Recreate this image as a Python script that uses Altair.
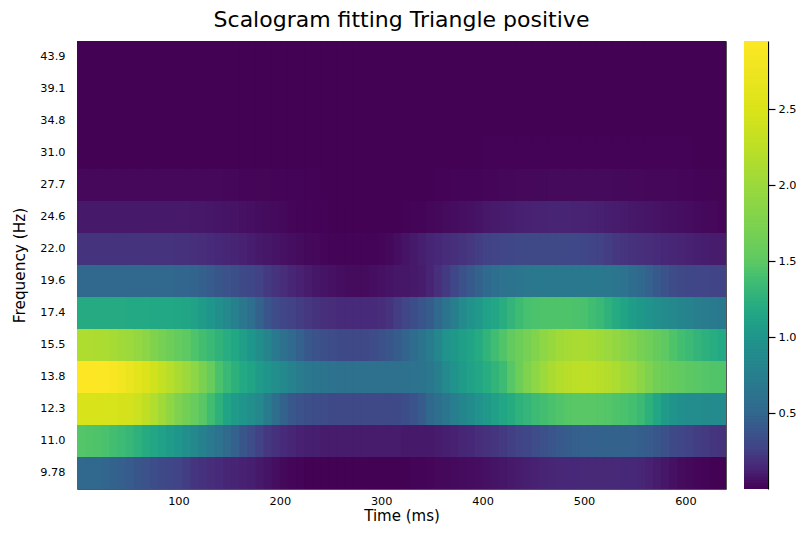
import altair as alt
import numpy as np
import pandas as pd

frequencies = ["43.9","39.1","34.8","31.0","27.7","24.6","22.0","19.6","17.4","15.5","13.8","12.3","11.0","9.78"]

r_439 = [.002]*40
r_391 = [.002]*40
r_348 = [.003]*16 + [.002]*6 + [.003]*18
r_310 = [.004,.004,.004,.004,.004,.004,.004,.004,.004,.003,.003,.003,.003,.002,.002,.002,.002,.002,.002,.002,.002,.002,.003,.004,.005,.006,.007,.008,.008,.008,.008,.008,.008,.008,.007,.007,.006,.006,.005,.005]
r_277 = [.025,.025,.026,.026,.026,.026,.026,.026,.025,.024,.02,.017,.014,.01,.007,.005,.003,.002,.002,.002,.003,.005,.008,.011,.015,.02,.024,.027,.03,.032,.033,.033,.032,.03,.027,.024,.021,.018,.015,.013]
r_246 = [.09,.09,.09,.09,.09,.09,.09,.09,.09,.09,.09,.09,.09,.09,.085,.083,.08,.075,.07,.065,.06,.052,.045,.04,.035,.028,.02,.016,.012,.009,.006,.004,.003,.002,.002,.002,.002,.002,.003,.005,.008,.011,.015,.022,.03,.037,.045,.052,.06,.072,.085,.092,.10,.108,.115,.12,.125,.128,.13,.13,.13,.128,.125,.12,.115,.108,.10,.092,.085,.08,.075,.068,.06,.055,.05,.042,.035,.03,.025,.02]
r_220 = [.20,.20,.20,.20,.20,.20,.20,.20,.20,.20,.20,.20,.19,.19,.18,.17,.16,.15,.14,.13,.12,.105,.09,.08,.07,.06,.05,.04,.03,.025,.02,.015,.01,.01,.01,.01,.012,.02,.03,.05,.07,.09,.11,.13,.15,.165,.18,.20,.22,.24,.26,.27,.28,.29,.30,.30,.30,.30,.30,.30,.30,.295,.29,.275,.26,.24,.22,.205,.19,.18,.17,.16,.15,.14,.13,.12,.11,.105,.10,.10]
r_196 = [.50,.50,.50,.50,.50,.50,.50,.50,.50,.50,.50,.50,.49,.49,.48,.45,.42,.39,.36,.34,.31,.29,.26,.23,.20,.17,.14,.12,.10,.08,.07,.06,.05,.04,.04,.04,.05,.06,.07,.08,.08,.09,.10,.13,.18,.23,.29,.35,.41,.47,.52,.57,.61,.64,.66,.67,.68,.68,.68,.68,.68,.68,.68,.68,.68,.67,.65,.61,.56,.51,.46,.41,.36,.32,.30,.29,.28,.28,.27,.27]
r_174 = [1.19,1.19,1.19,1.19,1.19,1.19,1.18,1.18,1.18,1.17,1.17,1.17,1.16,1.14,1.10,1.05,1.00,.93,.85,.77,.67,.57,.47,.38,.32,.28,.26,.24,.22,.20,.18,.17,.16,.16,.16,.16,.16,.17,.20,.24,.28,.33,.38,.43,.50,.62,.75,.87,.96,1.03,1.10,1.15,1.22,1.29,1.36,1.41,1.43,1.44,1.44,1.44,1.44,1.43,1.42,1.38,1.33,1.26,1.19,1.12,1.07,1.02,.97,.93,.89,.85,.82,.79,.75,.72,.70,.68]
r_155 = [2.15,2.14,2.13,2.11,2.08,2.04,2.00,1.94,1.86,1.77,1.69,1.61,1.55,1.50,1.44,1.39,1.33,1.27,1.21,1.16,1.08,1.00,.92,.81,.70,.60,.52,.46,.40,.36,.34,.32,.31,.30,.30,.30,.32,.35,.39,.43,.48,.55,.62,.71,.83,.96,1.02,1.08,1.13,1.19,1.28,1.37,1.45,1.54,1.61,1.68,1.78,1.88,1.97,2.03,2.08,2.10,2.10,2.08,2.04,1.98,1.92,1.85,1.78,1.70,1.63,1.56,1.50,1.44,1.39,1.34,1.29,1.25,1.21,1.18]
r_138 = [2.95,2.95,2.94,2.93,2.88,2.81,2.72,2.62,2.52,2.42,2.30,2.20,2.10,2.00,1.88,1.72,1.58,1.42,1.33,1.25,1.18,1.12,1.05,.99,.93,.86,.79,.72,.68,.65,.62,.61,.60,.60,.60,.60,.60,.60,.60,.60,.60,.61,.62,.67,.76,.87,.97,1.04,1.10,1.15,1.21,1.28,1.35,1.47,1.61,1.76,1.88,2.00,2.10,2.17,2.21,2.24,2.26,2.24,2.21,2.17,2.11,2.04,1.98,1.87,1.75,1.65,1.60,1.56,1.52,1.49,1.48,1.46,1.45,1.45]
r_123 = [2.48,2.48,2.48,2.47,2.47,2.46,2.44,2.38,2.28,2.16,2.03,1.89,1.75,1.66,1.57,1.48,1.38,1.25,1.12,1.05,.99,.93,.85,.72,.58,.47,.40,.36,.34,.33,.32,.31,.30,.30,.30,.30,.30,.30,.30,.31,.33,.37,.42,.50,.58,.66,.74,.82,.89,.96,1.03,1.09,1.15,1.20,1.26,1.30,1.35,1.39,1.42,1.45,1.47,1.48,1.48,1.48,1.47,1.46,1.44,1.42,1.40,1.34,1.25,1.15,1.05,.98,.94,.91,.90,.89,.88,.88]
r_110 = [1.46,1.45,1.44,1.42,1.39,1.35,1.31,1.26,1.20,1.15,1.10,1.05,1.00,.93,.85,.77,.69,.61,.53,.46,.39,.32,.26,.22,.19,.16,.14,.12,.11,.11,.10,.10,.10,.10,.10,.10,.10,.10,.10,.10,.09,.09,.09,.09,.10,.11,.12,.14,.15,.17,.19,.21,.23,.25,.27,.29,.32,.35,.38,.41,.43,.45,.46,.46,.47,.47,.47,.47,.46,.44,.42,.39,.35,.31,.28,.26,.24,.23,.21,.20]
r_978 = [.50,.50,.50,.49,.47,.45,.42,.39,.36,.33,.31,.29,.27,.24,.21,.19,.17,.16,.14,.13,.12,.11,.09,.07,.05,.03,.02,.01,.005,.004,.003,.002,.002,.002,.002,.002,.002,.002,.002,.003,.005,.01,.015,.02,.025,.03,.035,.04,.045,.05,.06,.07,.08,.09,.10,.11,.12,.13,.14,.145,.15,.15,.155,.155,.155,.155,.155,.15,.15,.14,.12,.10,.08,.06,.04,.03,.02,.01,.005,.003]
rows = [r_439,r_391,r_348,r_310,r_277,r_246,r_220,r_196,r_174,r_155,r_138,r_123,r_110,r_978]

color_stops = [0,.13,.20,.27,.45,.50,.68,.95,1.0,1.17,1.40,1.50,1.72,2.0,2.25,2.5,2.95]
color_hex = ["#440154","#482475","#46337e","#414487","#355f8d","#31688e","#2a788e","#21918c","#1f968b","#22a884","#44bf70","#5ec962","#7ad151","#9bd93c","#bddf26","#dae319","#fde725"]
color_scale = alt.Scale(domain=color_stops, range=color_hex, interpolate="rgb", clamp=True)

font = "DejaVu Sans"
records = []
for f, vals in zip(frequencies, rows):
    step = 640 / len(vals)
    for i, v in enumerate(vals):
        records.append({"f": f, "t0": i * step, "t1": min(640, (i + 1) * step + 1.5), "v": v})
df = pd.DataFrame(records)

heat = alt.Chart(df, title=alt.TitleParams("Scalogram fitting Triangle positive", font=font, fontSize=22, fontWeight="normal", color="#000000", anchor="middle", offset=9)).mark_rect().encode(
    x=alt.X("t0:Q", scale=alt.Scale(domain=[0, 640], nice=False, zero=False),
            axis=alt.Axis(title="Time (ms)", values=[100,200,300,400,500,600], grid=False, ticks=False, domain=False,
                          labelFont=font, labelFontSize=11.3, labelColor="#000000", labelPadding=6,
                          titleFont=font, titleFontSize=15, titleFontWeight="normal", titleColor="#000000", titlePadding=2)),
    x2="t1:Q",
    y=alt.Y("f:N", sort=frequencies, scale=alt.Scale(paddingInner=0, paddingOuter=0),
            axis=alt.Axis(title="Frequency (Hz)", grid=False, ticks=False, domain=False, labelFont=font, labelFontSize=11.3,
                          labelColor="#000000", labelPadding=12, titleFont=font, titleFontSize=15.3, titleFontWeight="normal",
                          titleColor="#000000", titlePadding=12, minExtent=38)),
    color=alt.Color("v:Q", scale=color_scale, legend=None),
).properties(width=649, height=448)

bar_values = np.arange(0, 2.95, 0.02)
bar_df = pd.DataFrame({"b0": bar_values, "b1": np.minimum(bar_values + 0.03, 2.95), "v": bar_values + 0.01})
bar = alt.Chart(bar_df).mark_rect().encode(
    x=alt.value(0), x2=alt.value(24),
    y=alt.Y("b0:Q", scale=alt.Scale(domain=[0, 2.95], nice=False, zero=False),
            axis=alt.Axis(title=None, orient="right", values=[0.5,1.0,1.5,2.0,2.5], format=".1f", grid=False,
                          domainColor="#000000", domainWidth=1.2, tickColor="#000000", tickSize=7, tickWidth=1.2, labelFont=font, labelFontSize=11.3,
                          labelColor="#000000", labelPadding=3)),
    y2="b1:Q",
    color=alt.Color("v:Q", scale=color_scale, legend=None),
).properties(width=24, height=448, view=alt.ViewBackground(stroke=None))

chart = alt.hconcat(heat, bar, spacing=17).resolve_scale(color="independent").properties(
    padding={"left": 3, "top": 0, "right": 0, "bottom": 0}, background="#ffffff"
).configure_view(stroke="#555555", strokeWidth=1).configure_axis(labelOverlap=False)

chart.save("out.html", embed_options={"renderer": "svg", "actions": False})
